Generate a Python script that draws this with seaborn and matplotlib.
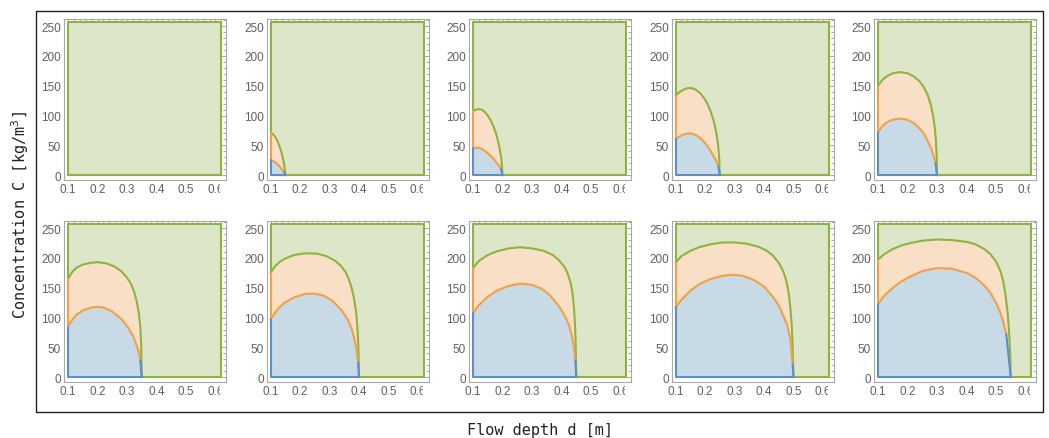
import matplotlib
matplotlib.use("Agg")
import matplotlib.pyplot as plt
import seaborn as sns
from matplotlib.patches import Rectangle
from matplotlib.transforms import Bbox, TransformedBbox

# ---------------- data ----------------
d_max = [0.10, 0.15, 0.20, 0.25, 0.30, 0.35, 0.40, 0.45, 0.50, 0.55]

green_d = [
    [],
    [0.10, 0.105, 0.11, 0.115, 0.12, 0.125, 0.13, 0.135, 0.14, 0.145, 0.148, 0.15],
    [0.10, 0.11, 0.12, 0.13, 0.14, 0.15, 0.16, 0.17, 0.178, 0.185, 0.191, 0.196, 0.2],
    [0.10, 0.11, 0.125, 0.14, 0.155, 0.17, 0.185, 0.20, 0.21, 0.22, 0.23, 0.238,
     0.244, 0.248, 0.25],
    [0.10, 0.115, 0.13, 0.15, 0.175, 0.20, 0.22, 0.24, 0.255, 0.268, 0.278, 0.286,
     0.292, 0.296, 0.299, 0.30],
    [0.10, 0.115, 0.13, 0.15, 0.18, 0.20, 0.23, 0.26, 0.28, 0.30, 0.315, 0.325,
     0.333, 0.34, 0.345, 0.348, 0.35],
    [0.10, 0.115, 0.13, 0.15, 0.18, 0.22, 0.26, 0.29, 0.32, 0.34, 0.355, 0.365,
     0.375, 0.383, 0.39, 0.395, 0.398, 0.40],
    [0.10, 0.12, 0.15, 0.18, 0.22, 0.26, 0.30, 0.34, 0.37, 0.39, 0.41, 0.42, 0.43,
     0.437, 0.442, 0.446, 0.448, 0.45],
    [0.10, 0.12, 0.15, 0.18, 0.22, 0.26, 0.30, 0.34, 0.38, 0.41, 0.43, 0.45, 0.465,
     0.475, 0.483, 0.489, 0.494, 0.497, 0.50],
    [0.10, 0.12, 0.15, 0.18, 0.21, 0.25, 0.30, 0.35, 0.40, 0.43, 0.46, 0.48, 0.50,
     0.515, 0.525, 0.533, 0.54, 0.545, 0.548, 0.55],
]
green_c = [
    [],
    [70, 70, 68, 65, 61, 56, 49, 42, 33, 21, 12, 0],
    [107, 110, 111, 110, 106, 100, 92, 81, 70, 57, 43, 28, 0],
    [133, 138, 143, 146, 146, 143, 137, 127, 118, 106, 90, 72, 52, 30, 0],
    [150, 160, 166, 171, 173, 171, 166, 158, 148, 135, 120, 102, 82, 60, 30, 0],
    [165, 177, 184, 189, 192, 193, 191, 185, 178, 167, 155, 142, 127, 108, 85,
     55, 0],
    [175, 186, 193, 199, 205, 208, 207, 203, 195, 186, 176, 165, 150, 132, 110,
     80, 50, 0],
    [183, 195, 205, 211, 216, 218, 216, 212, 205, 197, 185, 175, 160, 142, 118,
     85, 55, 0],
    [192, 203, 212, 218, 223, 226, 226, 224, 219, 212, 204, 192, 178, 163, 143,
     118, 88, 55, 0],
    [197, 206, 215, 221, 225, 229, 231, 230, 227, 223, 215, 207, 194, 178, 160,
     135, 105, 70, 40, 0],
]

orange_d = [
    [],
    [0.10, 0.105, 0.11, 0.115, 0.12, 0.125, 0.13, 0.135, 0.14, 0.146],
    [0.10, 0.11, 0.12, 0.13, 0.14, 0.15, 0.16, 0.17, 0.18, 0.188, 0.195],
    [0.10, 0.11, 0.125, 0.14, 0.155, 0.17, 0.185, 0.20, 0.215, 0.228, 0.238, 0.245],
    [0.10, 0.115, 0.13, 0.15, 0.175, 0.20, 0.22, 0.24, 0.255, 0.268, 0.28, 0.289,
     0.295],
    [0.10, 0.115, 0.13, 0.15, 0.18, 0.20, 0.22, 0.25, 0.28, 0.30, 0.32, 0.333,
     0.34, 0.345],
    [0.10, 0.115, 0.13, 0.15, 0.18, 0.22, 0.25, 0.28, 0.31, 0.34, 0.36, 0.375,
     0.385, 0.392, 0.397],
    [0.10, 0.12, 0.15, 0.18, 0.22, 0.26, 0.30, 0.33, 0.36, 0.39, 0.41, 0.425,
     0.435, 0.443, 0.447],
    [0.10, 0.12, 0.15, 0.18, 0.22, 0.26, 0.29, 0.33, 0.37, 0.40, 0.43, 0.45, 0.47,
     0.48, 0.49, 0.497],
    [0.10, 0.12, 0.15, 0.18, 0.21, 0.25, 0.30, 0.35, 0.40, 0.43, 0.46, 0.48, 0.50,
     0.515, 0.525, 0.535],
]
orange_c = [
    [],
    [25, 24.5, 23.5, 22, 20, 17.5, 15, 12, 9, 5],
    [45, 46, 46, 44, 41, 37, 32, 27, 21, 16, 10],
    [60, 64, 68, 70, 70, 67, 62, 54, 44, 33, 24, 15],
    [73, 82, 89, 93, 95, 93, 88, 79, 70, 58, 45, 32, 20],
    [85, 97, 105, 112, 117, 118, 117, 110, 98, 86, 70, 53, 42, 28],
    [97, 108, 117, 126, 134, 140, 140, 137, 128, 113, 98, 82, 63, 45, 25],
    [107, 121, 135, 145, 153, 157, 155, 149, 138, 120, 104, 88, 70, 48, 28],
    [117, 130, 145, 156, 165, 170, 172, 170, 162, 152, 135, 120, 98, 85, 62, 22],
    [123, 136, 150, 161, 169, 178, 183, 182, 175, 167, 154, 142, 125, 108, 92, 72],
]

x_ticks = [0.1, 0.2, 0.3, 0.4, 0.5, 0.6]
y_ticks = [0, 50, 100, 150, 200, 250]
box_left, box_right, box_top = 0.10, 0.62, 257

# ---------------- style ----------------
BLUE, ORANGE, GREEN = "#5e8ec8", "#f2a044", "#8db43e"
BLUE_F, ORANGE_F, GREEN_F = "#c8dae6", "#f9dfc6", "#dde6c9"

sns.set_theme(style="white")
plt.rcParams["font.family"] = ["Liberation Sans", "DejaVu Sans"]

W, H = 1049, 439
fig = plt.figure(figsize=(W / 100, H / 100), dpi=100)

lefts = [64, 266.5, 469, 671.5, 874]
tops = [20, 222]
aw, ah = 162, 161
LW = 1.5


def line(ax, xs, ys, color):
    sns.lineplot(x=xs, y=ys, ax=ax, color=color, lw=LW, sort=False,
                 estimator=None, solid_capstyle="round", solid_joinstyle="round")


for i in range(10):
    r, c = divmod(i, 5)
    x0 = lefts[c]
    y0 = tops[r]
    ax = fig.add_axes([x0 / W, 1 - (y0 + ah) / H, aw / W, ah / H])
    dm = d_max[i]
    gd, gc = green_d[i], green_c[i]
    od, oc = orange_d[i], orange_c[i]

    ax.fill([box_left, box_right, box_right, box_left],
            [0, 0, box_top, box_top], color=GREEN_F, lw=0)
    if gd:
        ax.fill(gd + od[::-1], gc + oc[::-1], color=ORANGE_F, lw=0)
        ax.fill([box_left] + od + [dm], [0] + oc + [0], color=BLUE_F, lw=0)
        line(ax, [box_left, box_left, box_right, box_right, dm],
             [gc[0], box_top, box_top, 0, 0], GREEN)
        line(ax, gd, gc, GREEN)
        line(ax, [box_left, box_left], [gc[0], oc[0]], ORANGE)
        line(ax, od, oc, ORANGE)
        line(ax, [od[-1], dm], [oc[-1], 0], BLUE)
        line(ax, [box_left, box_left, dm], [oc[0], 0, 0], BLUE)
    else:
        line(ax, [box_left, box_left, box_right, box_right, box_left],
             [0, box_top, box_top, 0, 0], GREEN)

    ax.set_xlim(0.0864, 0.6356)
    ax.set_ylim(-8, 262)
    ax.set_xticks(x_ticks)
    ax.set_xticklabels([f"{v:.1f}" for v in x_ticks])
    ax.set_yticks(y_ticks)
    ax.set_yticklabels([str(v) for v in y_ticks])
    ax.set_xticks([v / 100 for v in range(10, 64, 2)], minor=True)
    ax.set_yticks(list(range(0, 261, 10)), minor=True)
    ax.tick_params(which="both", direction="in", top=True, right=True,
                   color="#9a9a9a", width=0.6)
    ax.tick_params(which="major", length=4, labelsize=8.5,
                   labelcolor="#606060", pad=2)
    ax.tick_params(which="minor", length=2)
    for s in ax.spines.values():
        s.set_color("#a8a8a8")
        s.set_linewidth(0.8)
    ax.set_xlabel("")
    ax.set_ylabel("")

    lbl = ax.get_xticklabels()[-1]
    clip = Bbox([[0, 0], [(x0 + aw - 6) / W, 1]])
    lbl.set_clip_box(TransformedBbox(clip, fig.transFigure))
    lbl.set_clip_on(True)

fig.add_artist(Rectangle((36 / W, 1 - 413 / H), 1007 / W, 401 / H,
                         transform=fig.transFigure, fill=False,
                         ec="#222222", lw=1.0))

fig.text(20 / W, 1 - 215 / H, "Concentration C [kg/m$^3$]", rotation=90,
         ha="center", va="center", fontsize=11, family="DejaVu Sans Mono",
         color="#222222")
fig.text(540 / W, 1 - 431 / H, "Flow depth d [m]", ha="center",
         va="center", fontsize=11, family="DejaVu Sans Mono", color="#222222")

fig.savefig("out.png", dpi=100, facecolor="white")
